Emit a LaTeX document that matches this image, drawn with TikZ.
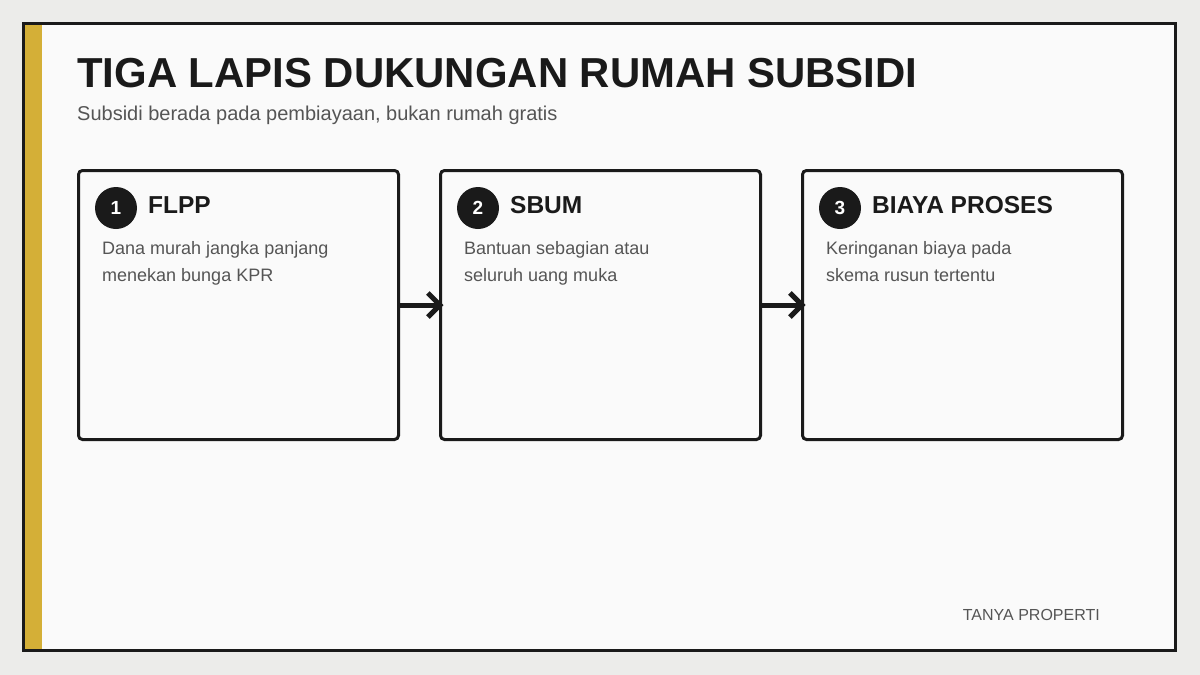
\documentclass[tikz,border=0pt]{standalone}
\usepackage{fontspec}
\setmainfont{Liberation Sans}
\usetikzlibrary{arrows.meta,positioning}
\definecolor{pagegray}{HTML}{ECECEA}
\definecolor{cardwhite}{HTML}{FAFAFA}
\definecolor{inkblack}{HTML}{1A1A1A}
\definecolor{goldbar}{HTML}{D4AF37}
\definecolor{textgray}{HTML}{555555}
\newcommand{\layercard}[5]{
    \node[card] (#1) at (#2,170.5) {};
    \node[badge] (#1num) at ([xshift=37.5pt,yshift=-37.5pt]#1.north west) {#3};
    \node[heading] (#1head) at ([xshift=69.5pt,yshift=-42.5pt]#1.north west) {#4};
    \node[desc] (#1text) at ([xshift=23.5pt,yshift=-111pt]#1.north west) {#5};
}

\begin{document}
\begin{tikzpicture}[x=1pt,y=-1pt,
    card/.style={draw=inkblack,line width=3pt,fill=cardwhite,rounded corners=4pt,
        minimum width=320pt,minimum height=269pt,anchor=north west,inner sep=0pt,outer sep=0pt},
    badge/.style={circle,fill=inkblack,text=white,minimum size=42pt,inner sep=0pt,
        font=\fontsize{19}{22}\selectfont\bfseries},
    heading/.style={anchor=base west,inner sep=0pt,text=inkblack,
        font=\fontsize{24.5}{28}\selectfont\bfseries},
    desc/.style={anchor=base west,inner sep=0pt,text=textgray,align=left,
        font=\fontsize{18}{27}\selectfont},
    flow/.style={draw=inkblack,line width=5pt,shorten >=-3pt,
        -{Straight Barb[length=12pt,width=24pt]}}]
    \useasboundingbox (0,0) rectangle (1200,675);

    % Page and frame
    \fill[pagegray] (0,0) rectangle (1200,675);
    \draw[inkblack,line width=3pt,fill=cardwhite] (23.5,23.5) rectangle (1175.5,650.5);
    \fill[goldbar] (25,25) rectangle (42,649);

    % Title
    \node[anchor=base west,inner sep=0pt,text=inkblack,font=\fontsize{41.9}{48}\selectfont\bfseries]
        (title) at (77,87) {TIGA LAPIS DUKUNGAN RUMAH SUBSIDI};
    \node[anchor=base west,inner sep=0pt,text=textgray,font=\fontsize{20}{24}\selectfont]
        (subtitle) at (77,120) {Subsidi berada pada pembiayaan, bukan rumah gratis};

    % Cards
    \layercard{flpp}{78.5}{1}{FLPP}{Dana murah jangka panjang\\menekan bunga KPR}
    \layercard{sbum}{440.5}{2}{SBUM}{Bantuan sebagian atau\\seluruh uang muka}
    \layercard{biaya}{802.5}{3}{BIAYA PROSES}{Keringanan biaya pada\\skema rusun tertentu}

    % Arrows
    \draw[flow] (flpp.east) -- (sbum.west);
    \draw[flow] (sbum.east) -- (biaya.west);

    % Footer
    \node[anchor=base east,inner sep=0pt,text=textgray,font=\fontsize{16}{19}\selectfont]
        (footer) at (1100,620) {TANYA PROPERTI};
\end{tikzpicture}
\end{document}
